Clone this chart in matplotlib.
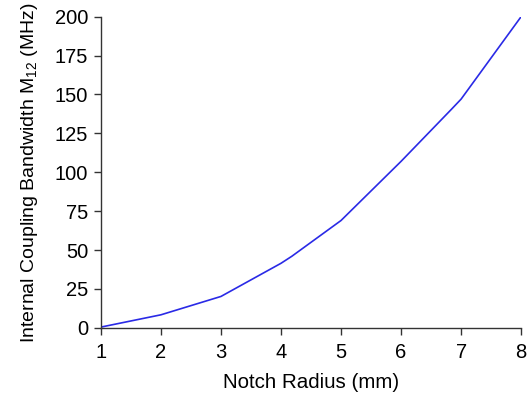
import matplotlib
matplotlib.use("Agg")
import matplotlib.pyplot as plt

plt.rcParams["font.family"] = ["Liberation Sans", "DejaVu Sans"]
plt.rcParams["mathtext.fontset"] = "custom"
plt.rcParams["mathtext.rm"] = "Liberation Sans"

# notch radius (mm) vs internal coupling bandwidth M12 (MHz)
radius = [1, 2, 3, 4, 4.18, 5, 6, 6.84, 7, 8]
bandwidth = [0.5, 8.4, 20.2, 41.5, 46.0, 69.0, 107.0, 140.5, 147.0, 200.0]

fig = plt.figure(figsize=(5.28, 3.96), dpi=100)
ax = fig.add_axes([0.191, 0.172, 0.796, 0.786])

ax.plot(radius, bandwidth, color="#2a2ae6", linewidth=1.2)

ax.set_xlim(1, 8)
ax.set_ylim(0, 200)
ax.set_xticks(range(1, 9))
ax.set_yticks(range(0, 201, 25))

for side in ["top", "right"]:
    ax.spines[side].set_visible(False)
for side in ["left", "bottom"]:
    ax.spines[side].set_color("#333333")
    ax.spines[side].set_linewidth(1.0)

ax.tick_params(direction="out", length=5, width=1.0, color="#333333",
               labelsize=14.5)
ax.tick_params(axis="x", pad=6)
ax.tick_params(axis="y", pad=4)

ax.set_xlabel("Notch Radius (mm)", fontsize=14.8, labelpad=8)
ax.set_ylabel("Internal Coupling Bandwidth M$_{\\mathrm{12}}$ (MHz)", fontsize=14, labelpad=11)

fig.savefig("out.png", dpi=100)
